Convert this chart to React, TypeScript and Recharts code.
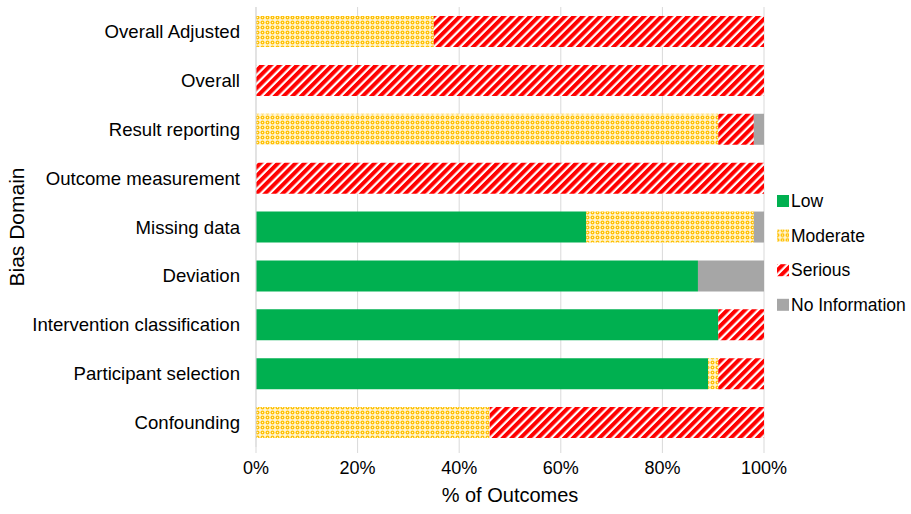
import { BarChart, Bar, XAxis, YAxis, CartesianGrid, Label } from "recharts";

const domains = [
  "Overall Adjusted",
  "Overall",
  "Result reporting",
  "Outcome measurement",
  "Missing data",
  "Deviation",
  "Intervention classification",
  "Participant selection",
  "Confounding",
];
const low = [0, 0, 0, 0, 65, 87, 91, 89, 0];
const moderate = [35, 0, 91, 0, 33, 0, 0, 2, 46];
const serious = [65, 100, 7, 100, 0, 0, 9, 9, 54];
const noInfo = [0, 0, 2, 0, 2, 13, 0, 0, 0];
const xTicks = [0, 20, 40, 60, 80, 100];

const data = domains.map((d, i) => ({
  domain: d,
  low: low[i],
  moderate: moderate[i],
  serious: serious[i],
  noInfo: noInfo[i],
}));

const FONT = "Liberation Sans, Arial, sans-serif";

const legendItems = [
  { label: "Low", fill: "#00B050" },
  { label: "Moderate", fill: "url(#modPat)" },
  { label: "Serious", fill: "url(#serPat)" },
  { label: "No Information", fill: "#A6A6A6" },
];

const Patterns = () => (
  <defs>
    <pattern id="serPat" width="6.2" height="6.2" patternUnits="userSpaceOnUse" patternTransform="rotate(45)">
      <rect width="6.2" height="6.2" fill="#fff" />
      <rect width="4" height="6.2" fill="#FF0000" />
    </pattern>
    <pattern id="modPat" width="5" height="5" patternUnits="userSpaceOnUse">
      <rect width="5" height="5" fill="#FFF4D0" />
      <circle cx="2.5" cy="2.5" r="2" fill="#FFC000" />
      <circle cx="2.5" cy="2.5" r="0.7" fill="#FFF4D0" />
    </pattern>
  </defs>
);

export default function App() {
  return (
    <div style={{ position: "absolute", left: 0, top: 0, width: 911, height: 514, background: "#fff" }}>
      <BarChart
        width={911}
        height={514}
        data={data}
        layout="vertical"
        margin={{ top: 7, right: 147, left: 0, bottom: 0 }}
        barSize={31}
      >
        <Patterns />
        <CartesianGrid horizontal={false} stroke="#d9d9d9" />
        <XAxis
          type="number"
          domain={[0, 100]}
          ticks={xTicks}
          tickFormatter={(v) => `${v}%`}
          axisLine={false}
          tickLine={{ stroke: "#d9d9d9" }}
          tickSize={6}
          tickMargin={8}
          height={67}
          tick={{ fontSize: 18, fill: "#000", fontFamily: FONT }}
        >
          <Label
            content={({ viewBox }: any) => (
              <text
                x={viewBox.x + viewBox.width / 2}
                y={viewBox.y + 55}
                textAnchor="middle"
                fontSize={20}
                fontFamily={FONT}
                fill="#000"
              >
                % of Outcomes
              </text>
            )}
          />
        </XAxis>
        <YAxis
          type="category"
          dataKey="domain"
          width={256}
          axisLine={{ stroke: "#d9d9d9" }}
          tickLine={false}
          tickSize={0}
          tickMargin={16}
          interval={0}
          tick={{ fontSize: 18.6, fill: "#000", fontFamily: FONT }}
        >
          <Label
            content={({ viewBox }: any) => (
              <text
                x={24}
                y={viewBox.y + viewBox.height / 2}
                transform={`rotate(-90 24 ${viewBox.y + viewBox.height / 2})`}
                textAnchor="middle"
                fontSize={21}
                fontFamily={FONT}
                fill="#000"
              >
                Bias Domain
              </text>
            )}
          />
        </YAxis>
        <Bar dataKey="low" stackId="a" fill="#00B050" isAnimationActive={false} />
        <Bar dataKey="moderate" stackId="a" fill="url(#modPat)" isAnimationActive={false} />
        <Bar dataKey="serious" stackId="a" fill="url(#serPat)" isAnimationActive={false} />
        <Bar dataKey="noInfo" stackId="a" fill="#A6A6A6" isAnimationActive={false} />
      </BarChart>
      <svg
        width={141}
        height={130}
        style={{ position: "absolute", left: 770, top: 188 }}
      >
        <Patterns />
        {legendItems.map((it, i) => (
          <g key={it.label} transform={`translate(0 ${i * 34.6})`}>
            <rect x={7} y={7} width={12} height={12} fill={it.fill} />
            <text x={21} y={19} fontSize={17.5} fontFamily={FONT} fill="#000">
              {it.label}
            </text>
          </g>
        ))}
      </svg>
    </div>
  );
}
